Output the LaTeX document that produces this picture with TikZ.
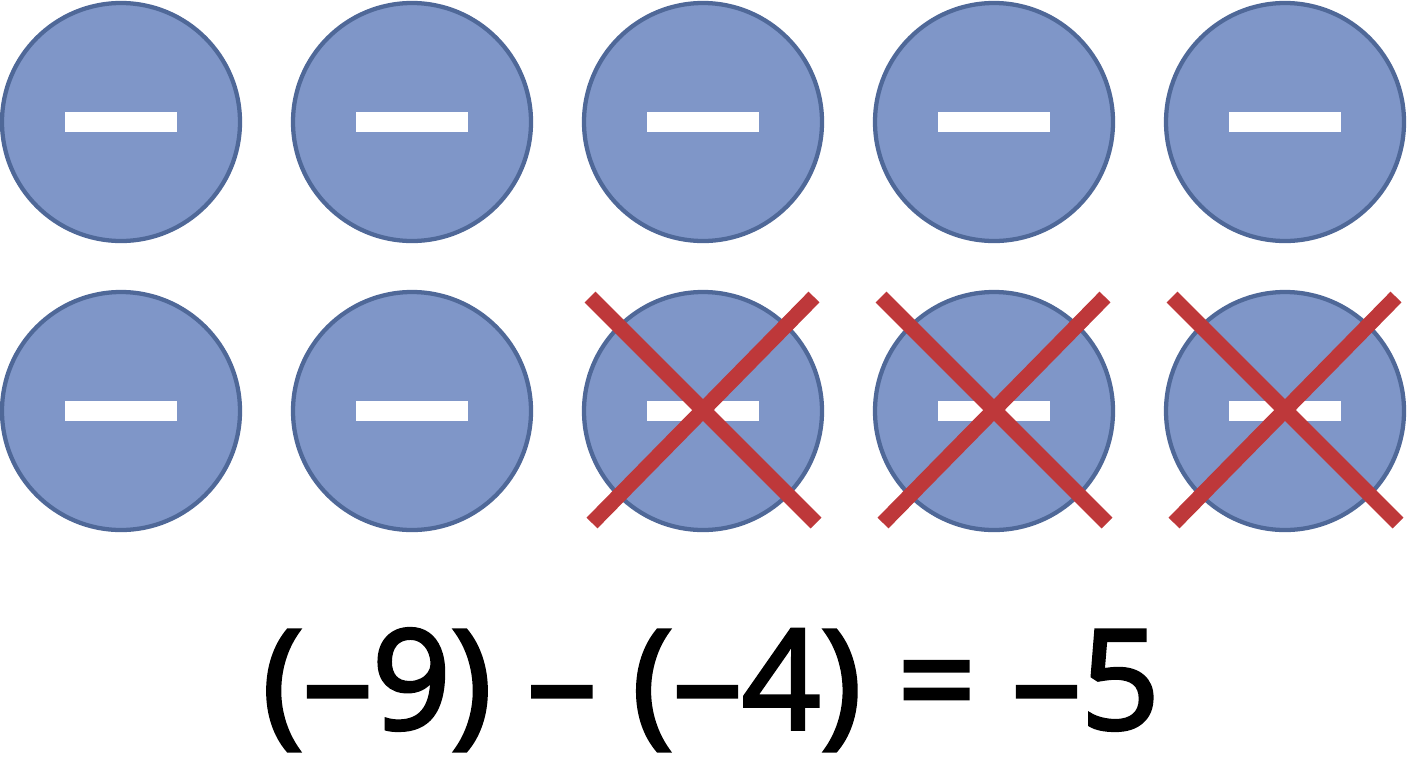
\documentclass[tikz,border=0pt]{standalone}
\usepackage{fontspec}
\setmainfont{Open Sans}
\newfontfamily\eqfont[FakeBold=2.5]{Open Sans}
\usetikzlibrary{calc}
\definecolor{discfill}{HTML}{7F96C8}
\definecolor{discline}{HTML}{4F6898}
\definecolor{crossred}{HTML}{BE383A}
\begin{document}
\begin{tikzpicture}[x=0.75pt,y=-0.75pt,
  disc/.style={circle,draw=discline,line width=3.2pt,fill=discfill,minimum size=238*0.75pt,inner sep=0pt},
  bar/.style={fill=white,draw=none,minimum width=112*0.75pt,minimum height=20*0.75pt,inner sep=0pt},
  cross/.style={draw=crossred,line width=11.5pt,line cap=butt}]
\useasboundingbox (0,0) rectangle (1408,768);
\foreach \i/\x in {1/121,2/412,3/703,4/994,5/1285}{
  \node[disc] (a\i) at (\x,122) {};
  \node[bar] (ab\i) at (a\i.center) {};
  \node[disc] (b\i) at (\x,411) {};
  \node[bar] (bb\i) at (b\i.center) {};
}
\foreach \i in {3,4,5}{
  \coordinate (tl\i) at ($(b\i.center)+(-113,-114)$);
  \coordinate (br\i) at ($(b\i.center)+(113,112)$);
  \coordinate (tr\i) at ($(b\i.center)+(111,-114)$);
  \coordinate (bl\i) at ($(b\i.center)+(-111,112)$);
  \draw[cross] (tl\i) -- (br\i);
  \draw[cross] (tr\i) -- (bl\i);
}
\node[anchor=base,inner sep=0pt] (eq) at (711,729)
  {\resizebox{673pt}{\height}{\fontsize{104pt}{120pt}\selectfont\eqfont (–9) – (–4) = –5}};
\end{tikzpicture}
\end{document}
